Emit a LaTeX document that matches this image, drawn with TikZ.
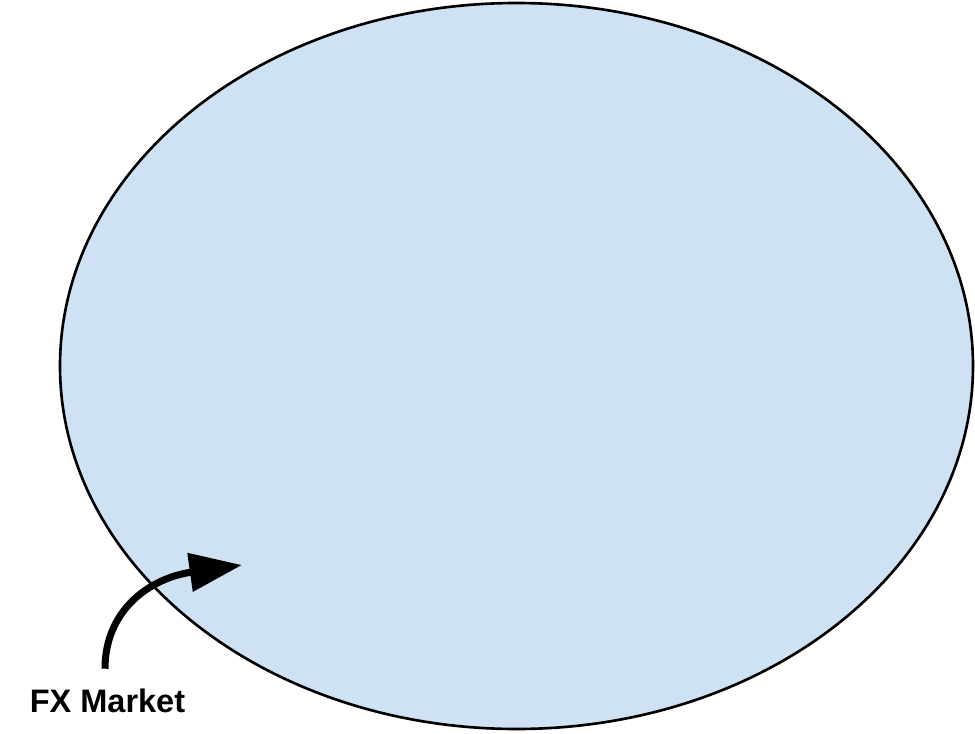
\documentclass[tikz,border=0pt]{standalone}
\usepackage{fontspec}
\setmainfont{Liberation Sans}
\usetikzlibrary{arrows.meta}
\definecolor{marketblue}{HTML}{CFE2F3}
\begin{document}
\begin{tikzpicture}[x=0.02cm, y=-0.02cm,
    market/.style={draw=black, line width=1.5pt, fill=marketblue},
    pointer/.style={line width=4pt, -{Triangle[length=1.05cm, width=0.75cm]}},
    tag/.style={font=\bfseries\fontsize{18.5}{21}\selectfont, inner sep=0pt}]
  \useasboundingbox (0,0) rectangle (975,734);

  % Market region
  \draw[market] (516.5,366) ellipse ({456.5*0.02cm} and {363*0.02cm});

  % Label and pointer
  \node[tag] (fxlabel) at (107.5,701) {FX Market};
  \coordinate (fxtail) at ([xshift=-0.05cm, yshift=0.4cm]fxlabel.north);
  \coordinate (fxtip) at (242,565);
  \draw[pointer] (fxtail) .. controls (105,610) and (150,578) .. (fxtip);
\end{tikzpicture}
\end{document}
